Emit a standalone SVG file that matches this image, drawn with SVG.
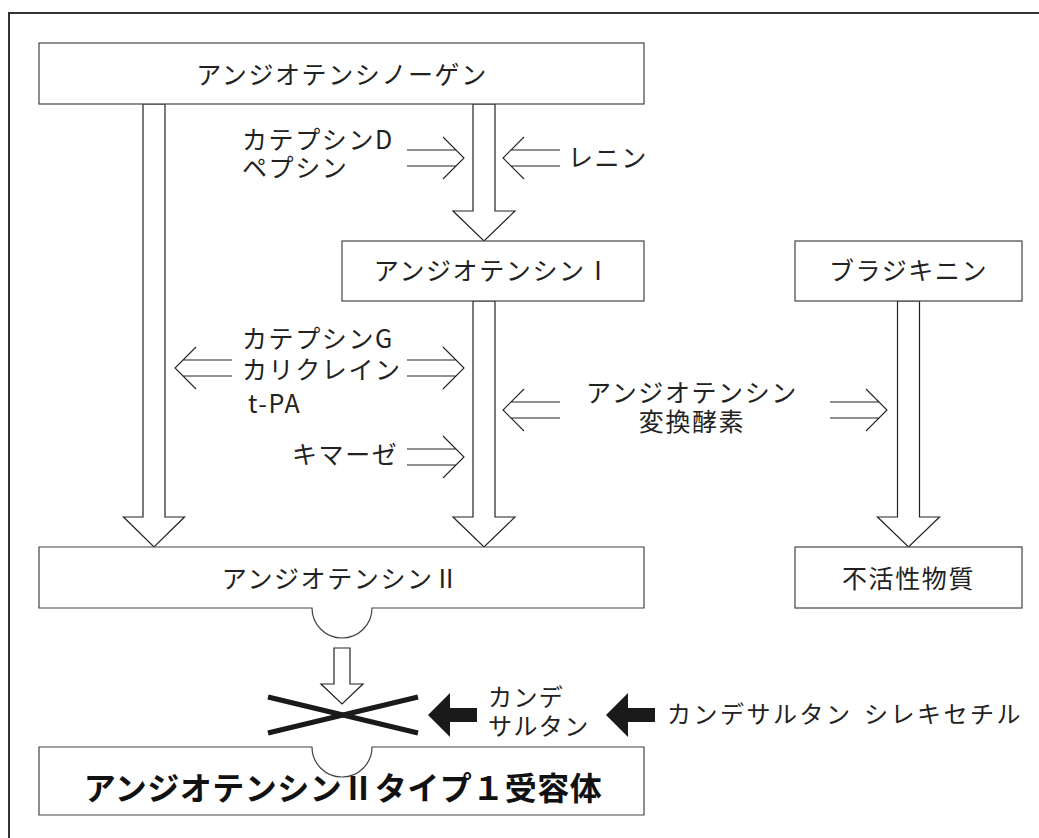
<svg xmlns="http://www.w3.org/2000/svg" xmlns:xlink="http://www.w3.org/1999/xlink" width="1039" height="838" viewBox="0 0 1039 838">
<style>
.box{fill:#fff;stroke:#444;stroke-width:1.2}
.blk{fill:#fff;stroke:#222;stroke-width:1.2;stroke-linejoin:miter}
.dbl{fill:none;stroke:#222;stroke-width:1.1}
.t{font-family:"Noto Sans CJK JP","Noto Sans",sans-serif;font-size:25px;fill:#222;letter-spacing:1.6px}
.s{font-family:"Noto Sans CJK JP","Noto Sans",sans-serif;font-size:24px;fill:#222;letter-spacing:1.4px}
.w{letter-spacing:2.5px}
.c{text-anchor:middle}
.b{font-family:"Noto Sans CJK JP","Noto Sans",sans-serif;font-size:32px;font-weight:bold;fill:#111;text-anchor:middle;letter-spacing:0.5px}
</style>
<defs>
<g id="dblR">
<path d="M-57,-8 H-8 M-57,8 H-8 M-21,-21 L0,0 L-21,21"/>
</g>
<path id="blackL" d="M0,0 L22,-22 L22,-7 L49,-7 L49,7 L22,7 L22,22 Z"/>
</defs>
<rect width="1039" height="838" fill="#fff"/>
<path d="M9,838 V13 H1039" fill="none" stroke="#333" stroke-width="2"/>

<g id="connectors">
<polygon class="blk" points="143,104 143,517 123.5,517 154,547 184.5,517 165,517 165,104"/>
<polygon class="blk" points="473,104 473,211 453,211 484,241 515,211 495,211 495,104"/>
<polygon class="blk" points="473,301 473,517 453,517 484,547 515,517 495,517 495,301"/>
<polygon class="blk" points="897.5,301 897.5,517 877.5,517 908.5,547 939.5,517 919.5,517 919.5,301"/>
<polygon class="blk" points="334,648 334,684 321,684 342,704 363,684 350,684 350,648"/>
<g class="dbl">
<use xlink:href="#dblR" transform="translate(464,158)"/>
<use xlink:href="#dblR" transform="translate(503,158) scale(-1,1)"/>
<use xlink:href="#dblR" transform="translate(175,368) scale(-1,1)"/>
<use xlink:href="#dblR" transform="translate(464,368)"/>
<use xlink:href="#dblR" transform="translate(464,457)"/>
<use xlink:href="#dblR" transform="translate(503,410) scale(-1,1)"/>
<use xlink:href="#dblR" transform="translate(887,410)"/>
</g>
<g id="block-x" stroke="#1a1a1a" stroke-width="5">
<line x1="268" y1="697" x2="418" y2="733"/>
<line x1="268" y1="733" x2="418" y2="697"/>
</g>
<use xlink:href="#blackL" transform="translate(428,715)" fill="#1a1a1a"/>
<use xlink:href="#blackL" transform="translate(606,715)" fill="#1a1a1a"/>
</g>

<g id="angiotensinogen">
<rect class="box" x="39" y="43" width="605" height="61"/>
<text class="t c" x="342" y="84">アンジオテンシノーゲン</text>
</g>
<g id="label-cathepsinD">
<text class="t" x="242" y="149">カテプシンD</text>
<text class="t" x="242" y="177">ペプシン</text>
</g>
<g id="label-renin">
<text class="t" x="568" y="167">レニン</text>
</g>
<g id="angiotensin1">
<rect class="box" x="342" y="241" width="302" height="60"/>
<text class="t c" x="493" y="280">アンジオテンシンⅠ</text>
</g>
<g id="bradykinin">
<rect class="box" x="795" y="241" width="227" height="60"/>
<text class="t c" x="908.5" y="280">ブラジキニン</text>
</g>
<g id="label-cathepsinG">
<text class="t" x="242" y="348">カテプシンG</text>
<text class="t" x="242" y="379">カリクレイン</text>
<text class="t" x="248" y="413">t-PA</text>
</g>
<g id="label-chymase">
<text class="t" x="292" y="464">キマーゼ</text>
</g>
<g id="label-ace">
<text class="t c" x="692" y="402">アンジオテンシン</text>
<text class="t c" x="692" y="431">変換酵素</text>
</g>
<g id="angiotensin2">
<path class="box" d="M39,547 H644 V608 H372 A30,30 0 0 1 312,608 H39 Z"/>
<text class="t c" x="341" y="588">アンジオテンシンⅡ</text>
</g>
<g id="inactive">
<rect class="box" x="795" y="547" width="227" height="61"/>
<text class="t c" x="908.5" y="588">不活性物質</text>
</g>
<g id="label-candesartan">
<text class="s" x="488" y="706">カンデ</text>
<text class="s" x="488" y="735">サルタン</text>
</g>
<g id="label-candesartan-cilexetil">
<text class="s w" y="723"><tspan x="667">カンデサルタン</tspan> <tspan x="864">シレキセチル</tspan></text>
</g>
<g id="at1-receptor">
<path class="box" d="M39,747 H312 A30,30 0 0 0 372,747 H644 V815 H39 Z"/>
<text class="b" x="343" y="800">アンジオテンシンⅡタイプ１受容体</text>
</g>
</svg>
